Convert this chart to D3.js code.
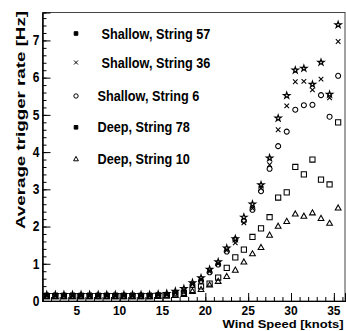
<!DOCTYPE html>
<html>
<head>
<meta charset="utf-8">
<script src="https://cdn.jsdelivr.net/npm/d3@7"></script>
<style>
  body { margin: 0; background: #fff; }
  svg text { font-family: "Liberation Sans", Arial, sans-serif; font-weight: bold; fill: #000; }
</style>
</head>
<body>
<div id="chart"></div>
<script>
// wind speed bin centres [knots]
const windSpeed = [1.5, 2.5, 3.5, 4.5, 5.5, 6.5, 7.5, 8.5, 9.5, 10.5, 11.5, 12.5, 13.5, 14.5, 15.5,
  16.5, 17.5, 18.5, 19.5, 20.5, 21.5, 22.5, 23.5, 24.5, 25.5, 26.5, 27.5, 28.5, 29.5, 30.5,
  31.5, 32.5, 33.5, 34.5, 35.5];

// average trigger rate [Hz]
const shallow57 = [0.17, 0.17, 0.17, 0.17, 0.17, 0.17, 0.17, 0.17, 0.17, 0.17, 0.17, 0.17, 0.17, 0.18, 0.2,
  0.26, 0.33, 0.49, 0.62, 0.85, 1.05, 1.42, 1.67, 2.25, 2.6, 3.12, 3.84, 4.91, 5.52, 6.2,
  6.25, 5.82, 6.41, 5.55, 7.42];
const shallow36 = [0.16, 0.16, 0.16, 0.16, 0.16, 0.16, 0.16, 0.16, 0.16, 0.16, 0.16, 0.16, 0.16, 0.17, 0.18,
  0.23, 0.28, 0.45, 0.56, 0.79, 1.0, 1.36, 1.56, 2.1, 2.49, 3.03, 3.66, 4.6, 5.24, 5.89,
  5.9, 5.67, 5.96, 5.46, 6.97];
const shallow6 = [0.15, 0.15, 0.15, 0.15, 0.15, 0.15, 0.15, 0.15, 0.15, 0.15, 0.15, 0.15, 0.15, 0.16, 0.17,
  0.22, 0.26, 0.43, 0.54, 0.77, 0.98, 1.33, 1.65, 2.15, 2.45, 2.95, 3.55, 4.16, 4.55, 5.14,
  5.26, 5.27, 5.53, 4.95, 6.05];
const deep78 = [0.13, 0.13, 0.13, 0.13, 0.13, 0.13, 0.13, 0.13, 0.13, 0.13, 0.13, 0.13, 0.13, 0.14, 0.15,
  0.18, 0.22, 0.3, 0.39, 0.47, 0.63, 0.89, 1.17, 1.38, 1.72, 1.95, 2.25, 2.78, 2.92, 3.6,
  3.4, 3.8, 3.26, 3.13, 4.8];
const deep10 = [0.12, 0.12, 0.12, 0.12, 0.12, 0.12, 0.12, 0.12, 0.12, 0.12, 0.12, 0.12, 0.12, 0.13, 0.14,
  0.15, 0.18, 0.26, 0.31, 0.43, 0.53, 0.66, 0.83, 1.05, 1.27, 1.44, 1.77, 2.01, 2.14, 2.34,
  2.28, 2.37, 2.22, 2.09, 2.5];

const legendLabels = ["Shallow, String 57", "Shallow, String 36", "Shallow, String 6", "Deep, String 78", "Deep, String 10"];
const xTicks = [5, 10, 15, 20, 25, 30, 35];
const yTicks = [0, 1, 2, 3, 4, 5, 6, 7];

const width = 346, height = 331;
const margin = { top: 12.5, right: 1, bottom: 30, left: 42.5 };

const svg = d3.select("#chart").append("svg")
  .attr("width", width)
  .attr("height", height);

const x = d3.scaleLinear().domain([1, 36.3]).range([margin.left, width - margin.right]);
const y = d3.scaleLinear().domain([0, 7.75]).range([height - margin.bottom, margin.top]);

// frame
svg.append("rect")
  .attr("x", margin.left).attr("y", margin.top)
  .attr("width", width - margin.right - margin.left)
  .attr("height", height - margin.bottom - margin.top)
  .attr("fill", "none").attr("stroke", "#444").attr("stroke-width", 1);

// axes, ROOT style: ticks pointing inside
const xAxis = d3.axisTop(x).tickValues(xTicks).tickSize(8).tickFormat("");
const xMinor = d3.axisTop(x).tickValues(d3.range(2, 37)).tickSize(4).tickFormat("");
const yAxis = d3.axisRight(y).tickValues(yTicks).tickSize(8).tickFormat("");
const yMinor = d3.axisRight(y).tickValues(d3.range(0, 7.75, 0.2)).tickSize(4).tickFormat("");

[xMinor, xAxis].forEach(a => {
  const g = svg.append("g").attr("transform", `translate(0,${y(0)})`).call(a);
  g.select(".domain").attr("stroke", "#000");
  g.selectAll(".tick line").attr("stroke", "#000");
});
[yMinor, yAxis].forEach(a => {
  const g = svg.append("g").attr("transform", `translate(${margin.left},0)`).call(a);
  g.select(".domain").attr("stroke", "#000");
  g.selectAll(".tick line").attr("stroke", "#000");
});

// text is a bit taller than wide in the original picture
const stretch = 1.15;

svg.append("g").selectAll("text")
  .data(xTicks).enter().append("text")
  .attr("x", d => x(d)).attr("y", 315.2)
  .attr("text-anchor", "middle")
  .style("font-size", "12px")
  .text(d => d);

svg.append("g").selectAll("text")
  .data(yTicks).enter().append("text")
  .attr("transform", d => `translate(39.5,${y(d) + 4.8}) scale(1,${stretch})`)
  .attr("text-anchor", "end")
  .style("font-size", "12px")
  .text(d => d);

svg.append("text")
  .attr("x", 343.5).attr("y", 328.4)
  .attr("text-anchor", "end")
  .attr("textLength", 121).attr("lengthAdjust", "spacingAndGlyphs")
  .style("font-size", "11.6px")
  .text("Wind Speed [knots]");

svg.append("text")
  .attr("transform", "translate(24.5,11) rotate(-90)")
  .attr("text-anchor", "end")
  .attr("textLength", 218).attr("lengthAdjust", "spacingAndGlyphs")
  .style("font-size", "13.5px")
  .text("Average trigger rate [Hz]");

// marker shapes
const markers = {
  star: () => d3.symbol().type(d3.symbolStar).size(12)(),
  cross: () => "M-2.3,-2.3L2.3,2.3M-2.3,2.3L2.3,-2.3",
  circle: () => "M2.5,0A2.5,2.5 0 1,1 -2.5,0A2.5,2.5 0 1,1 2.5,0Z",
  square: () => "M-2.6,-2.6H2.6V2.6H-2.6Z",
  triangle: () => "M0,-3L2.9,2.1H-2.9Z"
};

const series = [
  { values: deep78, shape: "square" },
  { values: deep10, shape: "triangle" },
  { values: shallow6, shape: "circle" },
  { values: shallow36, shape: "cross" },
  { values: shallow57, shape: "star" }
];

series.forEach(s => {
  svg.append("g").selectAll("path")
    .data(windSpeed.map((w, i) => [w, s.values[i]]))
    .enter().append("path")
    .attr("transform", d => `translate(${x(d[0])},${y(d[1])})`)
    .attr("d", markers[s.shape]())
    .attr("fill", "none")
    .attr("stroke", "#000")
    .attr("stroke-width", s.shape === "star" ? 1.2 : 1.05);
});

// legend
const legendShapes = ["filled", "cross", "circle", "filled", "triangle"];
const legendY = [33.5, 62.5, 96, 127.3, 159];
const legendTextX = [101.5, 101.5, 97.5, 97.5, 97.5];

const legend = svg.append("g");
legendLabels.forEach((label, i) => {
  const shape = legendShapes[i];
  const mk = legend.append("path")
    .attr("transform", `translate(76,${legendY[i]})`)
    .attr("stroke", "#000").attr("stroke-width", 1);
  if (shape === "filled") {
    mk.attr("d", "M-1.8,-1.8H1.8V1.8H-1.8Z").attr("fill", "#000");
  } else if (shape === "cross") {
    mk.attr("d", "M-2,-2L2,2M-2,2L2,-2").attr("fill", "none");
  } else if (shape === "circle") {
    mk.attr("d", "M2.2,0A2.2,2.2 0 1,1 -2.2,0A2.2,2.2 0 1,1 2.2,0Z").attr("fill", "none");
  } else {
    mk.attr("d", "M0,-2.6L2.4,1.8H-2.4Z").attr("fill", "none");
  }
  legend.append("text")
    .attr("transform", `translate(${legendTextX[i]},${legendY[i] + 5}) scale(1,${stretch})`)
    .style("font-size", "12.7px")
    .text(label);
});
</script>
</body>
</html>
